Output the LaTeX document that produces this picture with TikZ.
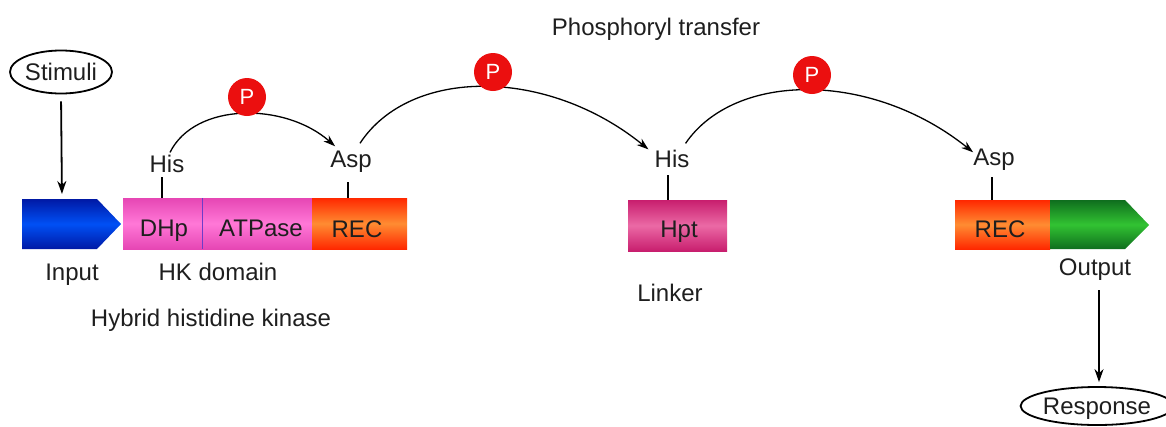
\documentclass[tikz,border=0pt]{standalone}
\usepackage{fontspec}
\setmainfont{Liberation Sans}
\usetikzlibrary{arrows.meta,shapes.geometric}
\definecolor{ink}{RGB}{30,30,30}
\definecolor{blueE}{RGB}{0,25,165}
\definecolor{blueM}{RGB}{0,80,245}
\definecolor{pinkE}{RGB}{230,70,180}
\definecolor{pinkM}{RGB}{255,120,215}
\definecolor{recE}{RGB}{255,40,0}
\definecolor{recM}{RGB}{255,140,50}
\definecolor{hptE}{RGB}{200,30,110}
\definecolor{hptM}{RGB}{235,105,165}
\definecolor{grnE}{RGB}{15,110,30}
\definecolor{grnM}{RGB}{50,195,50}
\definecolor{pred}{RGB}{235,15,15}
\begin{document}
\begin{tikzpicture}[x=1pt,y=-1pt,
  txt/.style={font=\fontsize{24}{28}\selectfont, text=ink, inner sep=0pt, anchor=base},
  bar/.style={draw=none, inner sep=0pt, minimum height=51pt, shading=axis},
  pinkbar/.style={bar, top color=pinkE, bottom color=pinkE, middle color=pinkM},
  recbar/.style={bar, top color=recE, bottom color=recE, middle color=recM},
  hptbar/.style={bar, top color=hptE, bottom color=hptE, middle color=hptM},
  oval/.style={ellipse, draw=black, line width=1.8pt, inner sep=0pt, font=\fontsize{24}{28}\selectfont, text=ink},
  pcirc/.style={circle, fill=pred, minimum size=38pt, inner sep=0pt, text=white, font=\fontsize{22}{26}\selectfont},
  arc/.style={draw=black, line width=1.3pt, -{Stealth[length=12pt,width=8pt]}},
  bigarrow/.style={draw=black, line width=1.8pt, -{Stealth[length=13pt,width=9pt]}},
  tick/.style={draw=black, line width=1.2pt}
]
\useasboundingbox (0,0) rectangle (1166,426);

% title
\node[txt] (title) at (656,35) {Phosphoryl transfer};

% stimuli and input
\node[oval, minimum width=102pt, minimum height=43pt] (stim) at (61,72) {Stimuli};
\path[shading=axis, top color=blueE, bottom color=blueE, middle color=blueM]
  (22,199) -- (97,199) -- (121,224) -- (97,249) -- (22,249) -- cycle;
\coordinate (inTop) at (62,199);
\draw[bigarrow, shorten <=7pt, shorten >=5pt] (stim.south |- stim.south) -- (inTop);
\node[txt] (input) at (72,280) {Input};

% hybrid histidine kinase
\node[pinkbar, minimum width=79pt] (dhp) at (162.5,223.5) {};
\node[pinkbar, minimum width=110pt] (atp) at (257,223.5) {};
\node[recbar, minimum width=95pt] (rec1) at (359.5,223.5) {};
\draw[draw={rgb,255:red,110;green,60;blue,200}, line width=0.8pt] (dhp.north east) -- (dhp.south east);
\node[txt] (dhpt) at (164,236) {DHp};
\node[txt] (atpt) at (261,236) {ATPase};
\node[txt] (rec1t) at (357,237) {REC};
\node[txt] (hk) at (218,280) {HK domain};
\node[txt] (hhk) at (211,326) {Hybrid histidine kinase};

\node[txt] (his1) at (167,172) {His};
\node[txt] (asp1) at (351,167) {Asp};
\draw[tick] ([shift={(-5,5)}]his1.south) coordinate (t1) -- (t1 |- dhp.north);
\draw[tick] ([shift={(-3,10)}]asp1.south) coordinate (t2) -- (t2 |- rec1.north);

% linker
\node[hptbar, minimum width=99pt] (hpt) at (677.5,225.5) {};
\node[txt] (hptt) at (679,237) {Hpt};
\node[txt] (linker) at (670,301) {Linker};
\node[txt] (his2) at (672,167) {His};
\draw[tick] ([shift={(-4,8)}]his2.south) coordinate (t3) -- (t3 |- hpt.north);

% response regulator
\node[recbar, minimum width=95pt, minimum height=49pt] (rec2) at (1002.5,224.5) {};
\path[shading=axis, top color=grnE, bottom color=grnE, middle color=grnM]
  (1050,200) -- (1125,200) -- (1149,225) -- (1125,249) -- (1050,249) -- cycle;
\node[txt] (rec2t) at (1000,237) {REC};
\node[txt] (asp2) at (994,165) {Asp};
\draw[tick] ([shift={(-2,7)}]asp2.south) coordinate (t4) -- (t4 |- rec2.north);
\node[txt] (output) at (1095,275) {Output};
\node[oval, minimum width=136pt, minimum height=38pt, text depth=0pt] (resp) at (1097,406) {Response};
\draw[bigarrow, shorten <=10pt, shorten >=4pt] ([xshift=4pt]output.south) -- ([xshift=2pt]resp.north);

% phosphoryl transfer arcs
\draw[arc] ([shift={(3,-2)}]his1.north) .. controls (195,102) and (285,102) .. ([shift={(5,-4)}]asp1.north west);
\draw[arc] ([shift={(9,-7)}]asp1.north) .. controls (410,67) and (547,67) .. ([shift={(-6,0)}]his2.north west);
\draw[arc] ([shift={(-4,-6)}]his2.north east) .. controls (735,71) and (872,71) .. ([shift={(0,4)}]asp2.north west);

\node[pcirc] (p1) at (247,97) {P};
\node[pcirc] (p2) at (493,72) {P};
\node[pcirc] (p3) at (812,75) {P};
\end{tikzpicture}
\end{document}
